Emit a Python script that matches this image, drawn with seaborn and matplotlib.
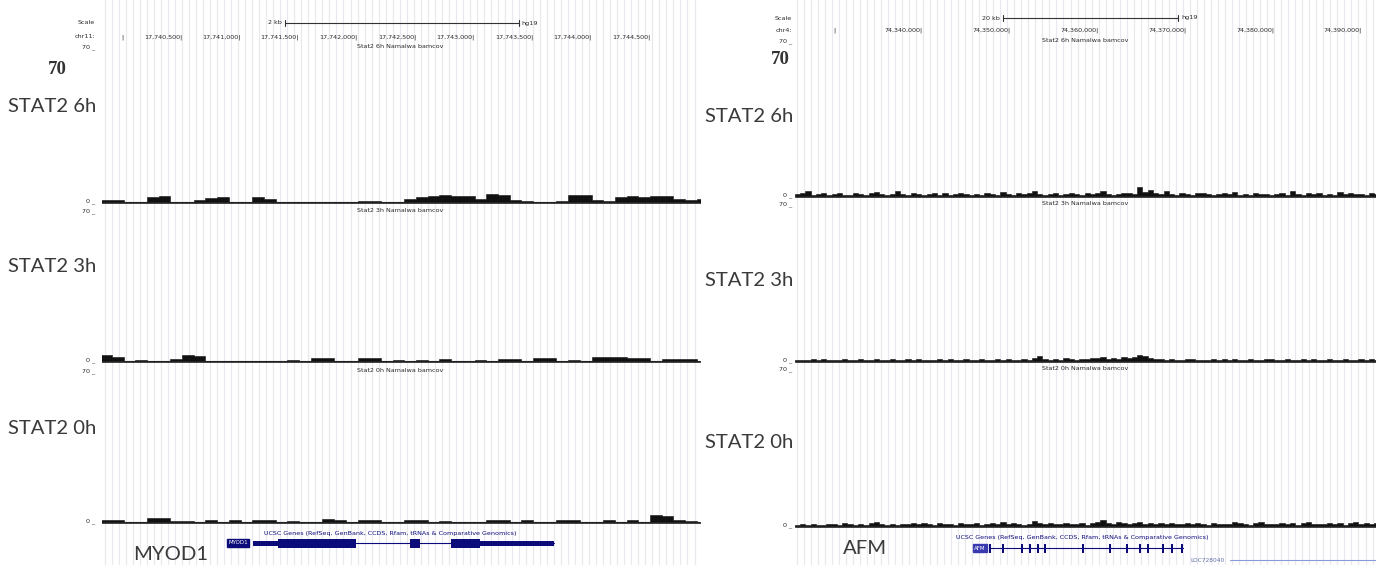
import numpy as np
import pandas as pd
import matplotlib
matplotlib.use("Agg")
import matplotlib.pyplot as plt
import seaborn as sns
from matplotlib.ticker import MultipleLocator

# ---------------- data ----------------
# left panel: chr11 (MYOD1)
left_start, left_end = 17739816, 17744927
left_bin0, left_binw = 17739800, 100
left_6h = [1.5, 1.2, 0.5, 0.5, 2.5, 3.0, 0.5, 0.5, 1.2, 2.2,
           2.5, 0.5, 0.5, 2.5, 2.0, 0.5, 0.5, 0.5, 0.5, 0.5,
           0.5, 0.5, 1.0, 0.8, 0.5, 0.5, 2.0, 2.5, 3.0, 3.5,
           3.0, 3.2, 2.0, 3.8, 3.5, 1.5, 1.0, 0.5, 0.5, 0.8,
           3.5, 3.5, 1.2, 1.0, 2.8, 3.2, 2.5, 3.0, 3.2, 2.0,
           1.5, 1.8]
left_3h = [3.0, 2.5, 0.5, 1.0, 0.5, 0.5, 1.2, 3.0, 2.8, 0.5,
           0.5, 0.5, 0.5, 0.5, 0.5, 0.5, 0.9, 0.5, 2.0, 2.0,
           0.5, 0.5, 2.0, 1.8, 0.5, 0.8, 0.5, 1.0, 0.5, 1.2,
           0.5, 0.5, 1.0, 0.5, 1.5, 1.5, 0.5, 2.0, 1.8, 0.5,
           1.0, 0.5, 2.5, 2.5, 2.2, 2.0, 1.8, 0.5, 1.5, 1.5,
           1.2, 0.5]
left_0h = [1.5, 1.2, 0.5, 0.5, 2.5, 2.2, 1.0, 1.0, 0.5, 1.5,
           0.5, 1.5, 0.5, 1.5, 1.2, 0.5, 1.0, 0.5, 0.5, 1.8,
           1.6, 0.5, 1.5, 1.3, 0.5, 0.5, 1.5, 1.4, 0.5, 1.0,
           0.5, 0.5, 0.5, 1.5, 1.5, 0.5, 1.5, 0.5, 0.5, 1.5,
           1.4, 0.5, 0.5, 1.2, 0.5, 1.5, 0.5, 3.5, 3.2, 1.2,
           1.0, 0.5]
left_ticks = [17740000, 17740500, 17741000, 17741500, 17742000,
              17742500, 17743000, 17743500, 17744000, 17744500]
left_scalebar = (17741380, 17743380)
myod1_exons = [(17741110, 17741990), (17742450, 17742530), (17742795, 17743678)]
myod1_cds = (17741320, 17743050)

# right panel: chr4 (AFM)
right_start, right_end = 74325421, 74391595
right_bin0, right_binw = 74325400, 600
right_6h = [1.2, 1.8, 2.6, 1.0, 1.5, 1.9, 0.8, 1.4, 2.0, 1.1,
            0.9, 1.6, 1.3, 1.0, 1.8, 2.2, 1.2, 0.9, 1.5, 2.6,
            1.4, 1.0, 1.7, 1.2, 0.8, 1.3, 1.9, 1.1, 1.6, 1.0,
            1.4, 2.0, 1.2, 0.9, 1.5, 1.1, 1.8, 1.3, 1.0, 2.2,
            1.4, 1.1, 1.6, 1.2, 1.9, 2.6, 1.3, 1.0, 1.5, 1.8,
            1.1, 1.4, 2.0, 1.2, 0.9, 1.6, 1.3, 1.8, 2.7, 1.5,
            1.1, 1.4, 2.0, 1.7, 1.3, 4.6, 2.4, 3.2, 1.6, 1.2,
            2.6, 1.5, 1.0, 1.8, 1.3, 1.1, 1.6, 2.0, 1.2, 0.9,
            1.5, 1.8, 1.3, 2.2, 1.1, 1.4, 1.0, 1.7, 1.2, 1.5,
            1.0, 1.3, 1.9, 1.1, 2.5, 1.4, 1.0, 1.6, 1.2, 1.8,
            1.1, 1.4, 1.0, 2.1, 1.3, 1.6, 1.2, 1.5, 1.0, 1.8,
            1.3]
right_3h = [0.9, 1.1, 0.8, 1.2, 1.0, 1.4, 0.9, 0.8, 1.1, 1.3,
            0.9, 1.0, 1.2, 0.8, 1.1, 1.5, 1.0, 0.9, 1.3, 1.1,
            0.8, 1.2, 1.0, 1.4, 0.9, 1.1, 0.8, 1.3, 1.0, 1.2,
            0.9, 1.1, 1.5, 1.0, 0.8, 1.2, 1.1, 0.9, 1.4, 1.0,
            1.2, 0.9, 1.1, 1.3, 1.0, 1.6, 2.6, 1.2, 1.0, 1.4,
            1.1, 1.8, 1.3, 1.0, 1.5, 1.2, 1.7, 1.9, 2.2, 1.4,
            1.6, 1.3, 2.4, 1.8, 2.0, 3.0, 2.5, 1.6, 1.2, 1.4,
            1.0, 1.3, 1.1, 0.9, 1.2, 1.5, 1.0, 0.8, 1.1, 1.3,
            0.9, 1.2, 1.0, 1.4, 0.8, 1.1, 1.3, 0.9, 1.0, 1.2,
            1.5, 1.0, 0.9, 1.3, 1.1, 0.8, 1.2, 1.0, 1.4, 0.9,
            1.1, 1.3, 1.0, 0.8, 1.2, 1.1, 0.9, 1.3, 1.0, 1.2,
            1.1]
right_0h = [1.0, 1.3, 0.9, 1.5, 1.1, 0.8, 1.2, 1.4, 1.0, 1.6,
            1.2, 0.9, 1.3, 1.1, 1.7, 2.4, 1.2, 1.0, 1.4, 1.1,
            1.5, 1.3, 1.8, 1.2, 1.6, 1.4, 1.0, 1.9, 1.3, 1.5,
            1.1, 1.7, 1.4, 1.2, 1.6, 1.0, 1.3, 1.8, 1.5, 2.1,
            1.2, 1.6, 1.4, 1.1, 1.5, 2.5, 1.7, 1.3, 1.9, 1.4,
            1.2, 1.8, 1.5, 1.3, 1.6, 1.1, 1.7, 2.0, 2.9, 1.6,
            1.4, 2.1, 1.8, 1.3, 1.9, 2.3, 1.5, 1.7, 1.2, 1.6,
            1.4, 1.9, 1.3, 1.5, 1.8, 1.2, 1.6, 1.4, 1.1, 1.7,
            1.3, 1.5, 1.2, 2.4, 1.6, 1.4, 1.0, 1.8, 2.3, 1.3,
            1.5, 1.2, 1.7, 1.4, 1.9, 1.1, 1.6, 2.4, 1.3, 1.5,
            1.2, 1.8, 1.4, 1.6, 1.1, 1.7, 2.3, 1.5, 1.9, 1.4,
            1.6]
right_ticks = [74330000, 74340000, 74350000, 74360000, 74370000, 74380000, 74390000]
right_scalebar = (74349100, 74369100)
afm_span = (74347631, 74369650)
afm_exons = [74347631, 74349111, 74351275, 74352186, 74353098, 74353895, 74358223,
             74361298, 74363234, 74364715, 74365626, 74367334, 74368359, 74369500]
loc_start = 74374965

track_names = ["Stat2 6h Namalwa bamcov", "Stat2 3h Namalwa bamcov", "Stat2 0h Namalwa bamcov"]
side_labels = ["STAT2 6h", "STAT2 3h", "STAT2 0h"]
ymax = 70

# ---------------- figure ----------------
W, H = 1376, 565
sns.set_theme(style="white")
plt.rcParams['font.family'] = ['DejaVu Sans']
fig = plt.figure(figsize=(W / 100, H / 100), dpi=100)
fig.patch.set_facecolor("white")

def px_axes(x0, y0, x1, y1):
    return fig.add_axes([x0 / W, 1 - y1 / H, (x1 - x0) / W, (y1 - y0) / H])

def ftext(x, y, s, **kw):
    fig.text(x / W, 1 - y / H, s, **kw)

GRID = "#e8e8ef"
NAVY = "#0b0b7a"
SMALL = dict(fontsize=4.6, color="#2a2a2a")
BIG = dict(family=["Lato", "DejaVu Sans"], fontsize=14.6, color="#3a3a3a")
SEVENTY = dict(family=["Liberation Serif", "DejaVu Serif"], fontsize=13.5,
               fontweight="bold", color="#333333")

def background(x0, x1, xlim, grid_step):
    ax = px_axes(x0, 0, x1, H)
    ax.set_xlim(*xlim)
    ax.set_ylim(H, 0)
    ax.set_facecolor("white")
    ax.xaxis.set_major_locator(MultipleLocator(grid_step))
    ax.grid(axis="x", color=GRID, lw=0.9)
    ax.grid(axis="y", visible=False)
    ax.tick_params(length=0, labelbottom=False, labelleft=False)
    for s in ax.spines.values():
        s.set_visible(False)
    return ax

def signal(x0, y0, x1, y1, xlim, bin0, binw, vals):
    ax = px_axes(x0, y0, x1, y1)
    ax.patch.set_alpha(0)
    n = len(vals)
    df = pd.DataFrame({"pos": bin0 + binw * (np.arange(n) + 0.5), "cov": vals})
    sns.histplot(data=df, x="pos", weights="cov", binwidth=binw,
                 binrange=(bin0, bin0 + binw * n), element="step",
                 fill=True, color="#111111", alpha=1, linewidth=0.4, ax=ax)
    ax.axhline(0.25, color="#222222", lw=0.8)
    ax.set_xlim(*xlim)
    ax.set_ylim(0, ymax)
    ax.axis("off")
    return ax

# ===== left panel =====
bgL = background(102, 700, (left_start, left_end), 60)
bgL.plot(left_scalebar, [23, 23], color="#333333", lw=0.8)
for b in left_scalebar:
    bgL.plot([b, b], [20, 26], color="#333333", lw=0.8)
bgL.annotate("2 kb", xy=(left_scalebar[0], 23), xytext=(-2, 0), textcoords="offset points",
             ha="right", va="center", **SMALL)
bgL.annotate("hg19", xy=(left_scalebar[1], 23), xytext=(2, 0), textcoords="offset points",
             ha="left", va="center", **SMALL)
for i, t in enumerate(left_ticks):
    lab = "|" if i == 0 else f"{t:,}|"
    bgL.text(t, 37, lab, ha="right", va="center", **SMALL)
ftext(95, 23, "Scale", ha="right", va="center", **SMALL)
ftext(95, 37, "chr11:", ha="right", va="center", **SMALL)

L_tracks = [(46, 203, left_6h), (210, 362, left_3h), (370, 523, left_0h)]
L_label_y = [107, 267, 428]
for (top, base, vals), name, lab, ly in zip(L_tracks, track_names, side_labels, L_label_y):
    signal(102, top, 700, base, (left_start, left_end), left_bin0, left_binw, vals)
    ftext(400, top + 1, name, ha="center", va="center", **SMALL)
    ftext(95, top + 1, "70 _", ha="right", va="center", **SMALL)
    ftext(95, base - 2, "0 _", ha="right", va="center", **SMALL)
    ftext(8, ly, lab, ha="left", va="center", **BIG)
ftext(57, 70, "70", ha="center", va="center", **SEVENTY)

ftext(390, 533, "UCSC Genes (RefSeq, GenBank, CCDS, Rfam, tRNAs & Comparative Genomics)",
      ha="center", va="center", fontsize=4.6, color=NAVY)
gy = 543
bgL.plot([myod1_exons[0][0], myod1_exons[-1][1]], [gy, gy], color=NAVY, lw=0.8)
for a, b in myod1_exons:
    bgL.fill_between([a, b], gy - 2.5, gy + 2.5, color=NAVY, lw=0)
    ca, cb = max(a, myod1_cds[0]), min(b, myod1_cds[1])
    if cb > ca:
        bgL.fill_between([ca, cb], gy - 4.5, gy + 4.5, color=NAVY, lw=0)
bgL.annotate("MYOD1", xy=(myod1_exons[0][0], gy), xytext=(-4, 0), textcoords="offset points",
             ha="right", va="center", fontsize=4, color="white",
             bbox=dict(boxstyle="square,pad=0.2", fc=NAVY, ec=NAVY))
ftext(133, 555, "MYOD1", ha="left", va="center", **BIG)

# ===== right panel =====
bgR = background(795, 1376, (right_start, right_end), 800)
bgR.plot(right_scalebar, [18, 18], color="#333333", lw=0.8)
for b in right_scalebar:
    bgR.plot([b, b], [15, 21], color="#333333", lw=0.8)
bgR.annotate("20 kb", xy=(right_scalebar[0], 18), xytext=(-2, 0), textcoords="offset points",
             ha="right", va="center", **SMALL)
bgR.annotate("hg19", xy=(right_scalebar[1], 18), xytext=(2, 0), textcoords="offset points",
             ha="left", va="center", **SMALL)
for i, t in enumerate(right_ticks):
    lab = "|" if i == 0 else f"{t:,}|"
    bgR.text(t, 30, lab, ha="right", va="center", **SMALL)
ftext(792, 18, "Scale", ha="right", va="center", **SMALL)
ftext(792, 30, "chr4:", ha="right", va="center", **SMALL)

R_tracks = [(40, 197, right_6h), (203, 362, right_3h), (368, 527, right_0h)]
R_label_y = [117, 280, 442]
for (top, base, vals), name, lab, ly in zip(R_tracks, track_names, side_labels, R_label_y):
    signal(795, top, 1376, base, (right_start, right_end), right_bin0, right_binw, vals)
    ftext(1085, top + 1, name, ha="center", va="center", **SMALL)
    ftext(792, top + 1, "70 _", ha="right", va="center", **SMALL)
    ftext(792, base - 2, "0 _", ha="right", va="center", **SMALL)
    ftext(705, ly, lab, ha="left", va="center", **BIG)
ftext(780, 60, "70", ha="center", va="center", **SEVENTY)

ftext(1082, 537, "UCSC Genes (RefSeq, GenBank, CCDS, Rfam, tRNAs & Comparative Genomics)",
      ha="center", va="center", fontsize=4.6, color=NAVY)
ry = 548
bgR.plot(afm_span, [ry, ry], color=NAVY, lw=0.8)
for e in afm_exons:
    bgR.fill_between([e - 90, e + 90], ry - 4.5, ry + 4.5, color=NAVY, lw=0)
bgR.annotate("AFM", xy=(afm_span[0], ry), xytext=(-3, 0), textcoords="offset points",
             ha="right", va="center", fontsize=4, color="white",
             bbox=dict(boxstyle="square,pad=0.25", fc="#3a3ab0", ec="#3a3ab0"))
ftext(843, 548, "AFM", ha="left", va="center", **BIG)
bgR.plot([loc_start, right_end], [560, 560], color="#8a9ad8", lw=0.8)
bgR.annotate("LOC728040", xy=(loc_start, 560), xytext=(-4, 0), textcoords="offset points",
             ha="right", va="center", fontsize=4.2, color="#6070a8")

fig.savefig("out.png", dpi=100, facecolor="white")
